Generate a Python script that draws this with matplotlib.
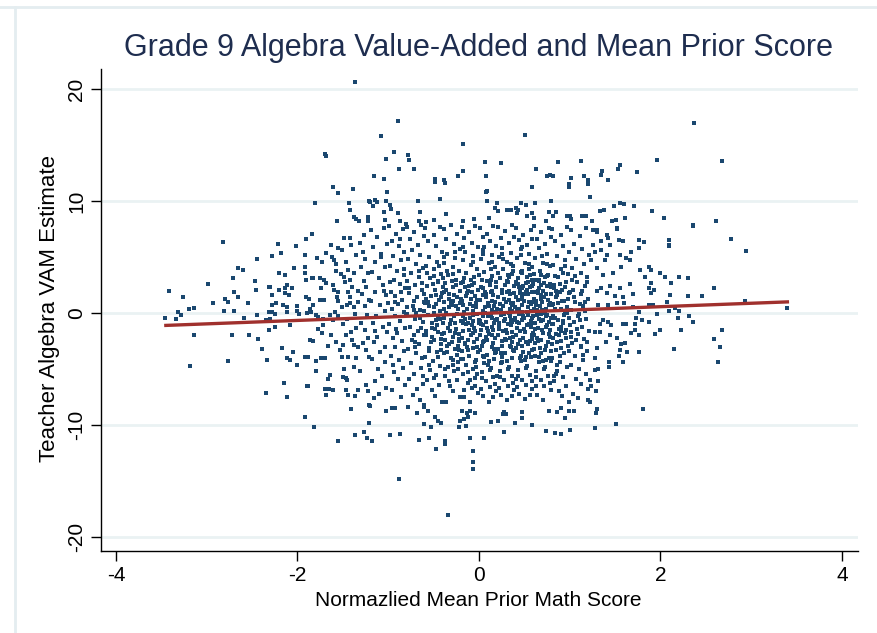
import matplotlib
matplotlib.use('Agg')
import matplotlib.pyplot as plt
from matplotlib.lines import Line2D

plt.rcParams['font.family'] = ['Liberation Sans', 'DejaVu Sans']
plt.rcParams['axes.unicode_minus'] = False

# ---- data (x = mean prior score, y = VAM estimate) ----
top_pts = [(-1.37,20.65),(-1.70,14.2),(-1.68,14.0),(-1.61,11.25),(-1.55,10.7),(-1.39,11.1),(-1.81,9.85),
    (-1.43,9.85),(-1.42,9.2),(-1.38,8.6),(-1.35,8.4),(-1.32,8.2),(-1.56,8.2),(-1.22,8.6),(-1.22,8.2),(-1.21,10.0),
    (-0.89,17.2),(-1.08,15.8),(-0.94,14.4),(-1.02,13.8),(-0.78,14.1),(-0.77,13.7),(-0.88,12.9),(-0.71,12.9),
    (-0.17,15.1),(-0.18,12.7),(-0.23,12.2),(0.07,13.5),(0.08,12.2),(0.08,10.8),(0.09,10.9),(0.09,10.0),(0.24,13.4),
    (0.51,15.9),(0.63,12.9),(0.59,11.3),(0.75,12.2),(0.78,12.3),(0.82,12.2),(0.87,13.5),(0.99,11.5),(0.99,11.3),
    (1.01,12.1),(1.12,13.6),(1.16,12.2),(1.20,11.9),(1.20,11.5),(-1.16,12.2),(-1.05,12.0),(-1.01,10.8),(-0.48,12.0),
    (-0.48,11.7),(-0.39,11.9),(-0.37,11.6),(-0.43,10.2),(-0.67,10.0),
    (2.37,17.0),(1.96,13.66),(2.68,13.57),(1.74,12.6),(1.55,13.2),(1.53,12.9),(1.36,12.7),(1.35,12.3),(1.42,11.9),
    (1.22,10.4),(1.49,9.6),(1.56,9.8),(1.60,9.7),(1.71,9.6),(1.33,9.1),(1.38,9.2),(1.91,9.1),(2.04,8.5),(1.25,8.2),
    (1.47,8.2),(1.51,8.3),(1.61,8.5),(2.36,7.9),(2.61,8.2)]

upper_pts = [(-1.20,9.94),(-1.17,9.56),(-1.14,10.14),(-1.12,9.94),(-1.02,10.03),(-0.98,9.65),(-0.97,9.26),
    (-1.05,9.05),(-1.03,8.31),(-0.89,8.96),(-0.87,8.22),(-0.80,7.95),(-0.65,9.05),(-0.66,8.25),(-0.58,8.16),
    (-0.50,8.31),(-0.36,8.81),(-0.18,8.25),(-0.05,8.39),(0.11,8.51),(0.18,9.35),(0.20,9.85),(0.21,9.11),(0.31,9.23),
    (0.34,9.23),(0.35,9.23),(0.41,9.35),(0.42,8.93),(0.43,9.23),(0.46,9.85),(0.52,9.65),(0.59,8.93),(0.61,8.51),
    (0.62,9.85),(0.53,8.63),(0.77,9.05),(0.85,9.05),(0.82,8.63),(0.74,8.25),(0.79,10.0),(1.0,8.63),(1.02,8.39),
    (1.14,8.63),(1.18,8.66),(0.97,8.63)]

left_pts = [(-2.82,6.37),(-3.42,1.96),(-3.26,1.46),(-3.32,0.12),(-3.28,-0.18),(-3.46,-0.47),(-3.34,-0.5),
    (-3.20,0.36),(-3.14,0.45),(-2.98,2.56),(-2.93,0.92),(-3.14,-1.96),(-3.18,-4.7),(-2.76,-4.3),(-2.71,3.1),
    (-2.66,3.99),(-2.60,3.85),(-2.80,1.25),(-2.77,1.0),(-2.70,1.9),(-2.66,1.46),(-2.70,0.18),(-2.81,0.18),
    (-2.72,-1.96),(-2.55,0.92),(-2.59,-0.47),(-2.53,-1.96),(-2.44,4.8),(-2.47,2.86),(-2.46,2.05),(-2.44,-0.18),
    (-2.43,-2.32),(-2.39,-3.21),(-2.33,-4.2),(-2.21,6.2),(-2.28,5.1),(-2.18,5.35),(-2.31,2.35),(-2.30,2.3),
    (-2.20,3.54),(-2.14,3.39),(-2.28,1.66),(-2.24,0.92),(-2.28,0.71),(-2.20,2.05),(-2.14,2.2),(-2.14,1.8),
    (-2.09,1.6),(-2.31,0.12),(-2.28,0.12),(-2.25,-0.1),(-2.35,-0.6),(-2.30,-0.5),(-2.25,-1.2),(-2.31,-1.5),
    (-2.12,2.55),(-2.06,2.25),(-2.16,0.71),(-2.12,0.57),(-2.11,0.08),(-2.08,-1.07),(-2.17,-3.1),(-2.05,-3.45),
    (-2.11,-4.0),(-2.08,-4.2),(-2.04,4.05),(-2.02,5.98),(-2.0,0.66),(-2.0,0.18),(-1.98,-0.1),(-2.0,-4.6),
    (-1.91,6.6),(-1.84,7.1),(-1.92,5.2),(-1.92,4.14),(-1.92,3.55),(-1.90,2.95),(-1.84,3.1),(-1.83,3.1),
    (-1.91,1.46),(-1.87,1.25),(-1.86,0.4),(-1.83,0.7),(-1.89,-0.03),(-1.85,0.12),(-1.79,-0.18),(-1.92,-3.9),
    (-1.88,-3.9),(-1.86,-2.4),(-1.83,-2.5),(-1.80,-4.3),(-1.79,-5.2),(-1.74,-4.0),(-1.70,-4.0),(-1.78,4.9),
    (-1.73,4.6),(-1.75,3.1),(-1.71,3.0),(-1.69,2.65),(-1.74,2.2),(-1.75,1.13),(-1.71,1.13),(-1.77,-0.32),
    (-1.72,-0.55),(-1.77,-1.43),(-1.73,-1.81),(-1.69,5.4),(-1.63,6.1),(-1.55,5.77),(-1.51,5.6),(-1.62,5.0),
    (-1.60,4.7),(-1.57,4.34),(-1.49,6.75),(-1.42,6.7),(-1.41,6.07),(-1.44,3.84),(-1.38,3.55),(-1.52,3.45),
    (-1.49,3.25),(-1.61,2.5),(-1.60,2.05),(-1.55,1.9),(-1.56,1.46),(-1.55,1.1),(-1.48,2.8),(-1.42,2.95),
    (-1.40,2.35),(-1.44,1.9),(-1.42,1.46),(-1.51,0.57),(-1.45,0.71),(-1.42,0.86),(-1.38,0.5),(-1.64,-0.18),
    (-1.59,0.12),(-1.61,-0.6),(-1.55,-0.3),(-1.72,-1.07),(-1.63,-1.96),(-1.57,-2.56),(-1.50,-2.86),(-1.46,-1.96),
    (-1.40,-2.41),(-1.38,-2.86),(-1.51,-3.9),(-1.44,-3.9),(-1.35,-4.05),(-1.49,-4.95),(-1.38,-4.8),(-1.31,-5.2),
    (-1.28,5.5),(-1.25,4.8),(-1.30,4.1),(-1.22,3.6),(-1.27,2.9),(-1.24,2.3),(-1.29,1.7),(-1.21,1.2),(-1.26,0.6),
    (-1.23,-0.2),(-1.30,-0.9),(-1.25,-1.5),(-1.22,-2.2),(-1.28,-2.7),(-1.24,-3.3),(-1.21,-3.9),(-1.33,1.0),
    (-1.35,-1.3),(-1.33,-3.0),(-1.27,7.0),(-1.31,6.3),(-1.47,4.6),(-1.35,5.2),(-1.58,3.8),(-1.33,2.0),(-1.50,-1.0),
    (-1.45,-0.5),(-1.36,-0.1),(-1.66,-2.9),(-1.53,-3.3),(-1.41,-1.7)]

bottom_pts = [(-2.35,-7.1),(-2.15,-6.22),(-2.12,-7.47),(-1.92,-9.29),(-1.82,-10.18),(-1.89,-6.52),(-1.88,-6.55),
    (-1.66,-5.9),(-1.64,-5.5),(-1.50,-5.7),(-1.46,-5.8),(-1.45,-6.0),(-1.70,-6.8),(-1.69,-7.3),(-1.65,-6.8),
    (-1.61,-6.9),(-1.47,-6.9),(-1.44,-7.3),(-1.36,-7.4),(-1.33,-6.9),(-1.24,-6.4),(-1.22,-7.0),(-1.21,-8.2),
    (-1.21,-9.8),(-1.41,-8.6),(-1.55,-11.4),(-1.36,-10.9),(-1.27,-10.6),(-1.23,-11.2),
    (-0.345,-18.07),(-0.88,-14.8),(-0.07,-13.9),(-0.06,-13.3),(-0.06,-12.3),(-0.10,-11.2),(0.06,-11.2),
    (-0.37,-11.4),(-0.37,-11.7),(-0.47,-12.1),(-0.55,-11.2),(-0.66,-11.3),(-0.87,-10.8),(-0.98,-10.9),(-1.18,-11.4),
    (-0.61,-9.9),(-0.53,-10.2),(-0.42,-9.8),(-0.45,-9.6),(-0.48,-9.3),(-0.22,-10.2),(-0.14,-10.1),(-0.21,-9.6),
    (-0.16,-9.5),(-0.12,-9.3),(-0.13,-8.96),(-0.04,-8.96),(-0.19,-8.75),(-0.10,-8.7),(0.13,-9.7),(0.21,-9.6),
    (0.28,-10.6),(0.40,-9.8),(0.48,-9.4),(0.48,-8.8),(0.59,-10.0),(0.74,-10.5),(0.84,-10.7),(0.91,-10.8),
    (1.0,-10.4),(0.95,-9.4),(0.77,-8.7),(0.86,-8.8),(0.91,-8.5),(0.99,-8.7),(1.05,-8.75),(1.09,-7.6),(1.20,-7.8),
    (0.28,-8.8),(0.27,-9.0),(0.30,-9.0),(-0.96,-8.5),(-0.93,-8.5),(-1.02,-8.7),(-0.78,-8.4),(-0.68,-8.96),
    (-0.60,-8.4),(-0.56,-8.7),(-0.60,-8.2),(-1.16,-7.6),(-1.20,-8.3),
    (1.81,-8.57),(1.51,-9.89),(1.28,-10.24),(1.30,-8.57),(1.29,-8.96),(1.31,-6.1),(1.23,-5.98),(1.24,-6.55),
    (1.29,-6.94),(1.22,-7.9)]

right_pts = [(2.78,6.6),(2.94,5.56),(2.36,7.8),(2.59,2.2),(2.93,1.07),(3.40,0.42),(2.68,-1.49),(2.59,-2.32),
    (2.66,-3.0),(2.63,-4.4),(2.15,-3.21),(2.23,-1.55),(2.36,-0.84),(2.32,-0.24),(2.19,-0.48),(2.46,1.55),
    (2.30,1.55),(2.31,3.15),(2.21,3.24),(2.12,2.65),(2.11,1.64),(2.05,3.24),(2.0,3.54),(2.09,6.5),(2.09,6.07),
    (2.10,5.98),(2.16,0.42),(2.21,0.21),(2.09,0.18),(2.07,1.0),(1.96,-0.12),(2.0,-1.55),(1.94,-1.9),(1.76,-3.5),
    (1.93,2.05),(1.90,2.65),(1.90,1.76),(1.87,2.2),(1.92,0.71),(1.83,3.24),(1.87,4.14),(1.90,3.85),(1.78,3.85),
    (1.77,5.83),(1.82,6.35),(1.77,6.5),(1.68,5.47),(1.66,4.73),(1.59,6.4),(1.54,6.5),(1.52,7.5),(1.52,7.6),
    (1.30,7.4),(1.30,7.2),(1.41,7.0),(1.42,6.7),(1.35,6.4),(1.26,6.07),(1.28,5.47),(1.35,5.6),(1.41,5.2),
    (1.77,-3.45),(1.63,-3.45),(1.55,-3.3),(1.59,-4.35),(1.43,-4.35),(1.31,-5.0),(1.28,-5.1),(1.28,-4.05),
    (1.43,-4.8),(1.54,-3.8),(1.61,-2.7),(1.57,-2.8),(1.52,-2.2),(1.68,-1.82),(1.72,-1.52),(1.76,-1.96),
    (1.44,-1.96),(1.40,-2.62),(1.30,-3.1),(1.33,-1.73),(1.28,-1.67),(1.73,-0.48),(1.80,-0.63),(1.88,-0.78),
    (1.72,-0.93),(1.62,-1.0),(1.59,-0.93),(1.46,-1.07),(1.42,-0.78),(1.37,-0.63),(1.33,-0.93),
    (1.30,1.96),(1.35,2.26),(1.41,1.8),(1.45,2.4),(1.50,1.5),(1.55,2.26),(1.59,1.4),(1.66,2.6),(1.70,1.7),
    (1.31,0.71),(1.42,0.71),(1.52,0.86),(1.60,0.86),(1.70,0.57),(1.77,0.07),(1.88,0.71),(1.37,3.4),(1.48,3.55),
    (1.57,4.14),(1.39,4.73),(1.30,3.99),(1.62,4.88),(1.55,5.17),(1.24,4.73),(1.44,6.07),(1.26,7.4)]

core_left_pts = [(-1.19,7.4),(-1.12,6.8),(-1.05,7.6),(-1.17,5.9),(-1.08,5.3),(-1.01,6.2),(-1.14,4.6),(-1.03,4.1),
    (-1.18,3.7),(-1.10,3.1),(-1.06,2.5),(-1.15,1.9),(-1.02,1.6),(-1.19,1.1),(-1.09,0.7),(-1.04,0.2),(-1.13,-0.3),
    (-1.17,-0.9),(-1.06,-1.2),(-1.01,-1.7),(-1.12,-2.1),(-1.16,-2.6),(-1.04,-3.0),(-1.09,-3.5),(-1.18,-4.1),
    (-1.03,-4.4),(-1.11,-5.0),(-1.07,-5.6),(-1.15,-6.1),(-1.02,-6.7),(-1.10,-7.2),(-1.05,2.0),(-1.14,-1.6),
    (-1.00,0.9),(-1.08,5.0),
    (-0.99,7.8),(-0.91,7.1),(-0.84,7.5),(-0.96,6.4),(-0.88,6.0),(-0.82,5.5),(-0.95,5.1),(-0.86,4.7),(-0.98,4.2),
    (-0.90,3.8),(-0.83,3.4),(-0.94,3.0),(-0.87,2.6),(-0.81,2.2),(-0.97,1.9),(-0.92,1.5),(-0.85,1.2),(-0.89,0.8),
    (-0.96,0.4),(-0.83,0.1),(-0.93,-0.3),(-0.87,-0.7),(-0.99,-1.0),(-0.81,-1.3),(-0.90,-1.8),(-0.95,-2.2),
    (-0.85,-2.5),(-0.92,-3.0),(-0.82,-3.4),(-0.97,-3.8),(-0.88,-4.2),(-0.84,-4.9),(-0.94,-5.3),(-0.89,-5.9),
    (-0.81,-6.4),(-0.96,-6.9),(-0.86,-7.5),(-0.93,1.0),(-0.86,1.9),(-0.80,-0.2),(-0.98,2.8),(-0.91,-1.4),
    (-0.83,3.9),(-0.87,6.6),(-0.95,-4.6),
    (-0.79,7.7),(-0.71,7.2),(-0.64,7.9),(-0.76,6.6),(-0.67,6.1),(-0.61,6.9),(-0.74,5.6),(-0.65,5.2),(-0.78,4.8),
    (-0.69,4.4),(-0.62,4.0),(-0.75,3.6),(-0.66,3.2),(-0.79,2.9),(-0.70,2.5),(-0.63,2.1),(-0.77,1.8),(-0.68,1.4),
    (-0.61,1.0),(-0.73,0.6),(-0.65,0.3),(-0.79,-0.1),(-0.70,-0.5),(-0.62,-0.8),(-0.76,-1.2),(-0.67,-1.6),
    (-0.60,-2.0),(-0.74,-2.4),(-0.66,-2.8),(-0.78,-3.2),(-0.69,-3.6),(-0.63,-4.0),(-0.75,-4.5),(-0.64,-4.9),
    (-0.71,-5.4),(-0.77,-5.9),(-0.62,-6.3),(-0.68,-6.8),(-0.73,-7.3),(-0.65,-7.8),(-0.72,1.1),(-0.61,1.7),
    (-0.69,0.0),(-0.77,2.2),(-0.64,-1.3),(-0.72,-2.0),(-0.66,3.8),(-0.70,-3.0),(-0.62,-5.6),(-0.79,0.5),
    (-0.59,7.6),(-0.50,7.0),(-0.43,7.7),(-0.56,6.4),(-0.47,6.0),(-0.41,5.5),(-0.55,5.0),(-0.46,4.6),(-0.58,4.2),
    (-0.49,3.9),(-0.42,3.5),(-0.54,3.1),(-0.45,2.8),(-0.57,2.4),(-0.48,2.1),(-0.41,1.8),(-0.53,1.5),(-0.44,1.2),
    (-0.59,0.9),(-0.50,0.5),(-0.43,0.2),(-0.56,-0.2),(-0.47,-0.6),(-0.40,-0.9),(-0.52,-1.3),(-0.45,-1.7),
    (-0.58,-2.0),(-0.49,-2.4),(-0.42,-2.8),(-0.55,-3.1),(-0.46,-3.5),(-0.59,-3.9),(-0.51,-4.3),(-0.43,-4.7),
    (-0.54,-5.1),(-0.47,-5.5),(-0.57,-6.0),(-0.44,-6.4),(-0.52,-6.9),(-0.48,-7.4),(-0.41,-7.9),(-0.56,1.0),
    (-0.46,-1.1),(-0.51,2.6),(-0.42,-3.3),(-0.58,-1.6),(-0.49,0.0),(-0.44,4.2),(-0.53,-2.6),(-0.40,2.3),
    (-0.55,-4.6),(-0.47,1.6),(-0.57,3.6),(-0.45,-0.3),(-0.50,-5.8)]

core_mid_pts = [(-0.39,7.5),(-0.31,7.9),(-0.24,7.1),(-0.36,6.6),(-0.27,6.2),(-0.21,5.7),(-0.35,5.3),(-0.26,4.9),
    (-0.38,4.5),(-0.29,4.1),(-0.22,3.8),(-0.34,3.4),(-0.25,3.0),(-0.37,2.7),(-0.28,2.3),(-0.21,2.0),(-0.33,1.7),
    (-0.24,1.4),(-0.39,1.0),(-0.30,0.7),(-0.23,0.4),(-0.36,0.0),(-0.27,-0.3),(-0.20,-0.7),(-0.32,-1.0),
    (-0.25,-1.4),(-0.38,-1.8),(-0.29,-2.1),(-0.22,-2.5),(-0.35,-2.9),(-0.26,-3.2),(-0.39,-3.6),(-0.31,-4.0),
    (-0.23,-4.4),(-0.34,-4.8),(-0.27,-5.2),(-0.37,-5.6),(-0.24,-6.0),(-0.32,-6.5),(-0.28,-7.0),(-0.21,-7.5),
    (-0.36,-7.9),(-0.33,0.5),(-0.26,-0.9),(-0.30,2.9),(-0.22,-1.9),(-0.38,-0.4),(-0.28,1.1),(-0.24,-3.7),
    (-0.35,3.8),(-0.30,-2.6),(-0.21,0.9),(-0.37,-5.0),(-0.26,5.5),(-0.33,-6.1),(-0.23,-2.9),(-0.39,1.9),
    (-0.29,-4.6),(-0.25,2.5),(-0.34,-1.3),
    (-0.19,7.7),(-0.11,7.2),(-0.04,7.8),(-0.16,6.7),(-0.08,6.3),(-0.01,5.9),(-0.15,5.5),(-0.06,5.1),(-0.18,4.7),
    (-0.09,4.3),(-0.02,3.9),(-0.14,3.6),(-0.05,3.2),(-0.17,2.8),(-0.08,2.5),(-0.01,2.1),(-0.13,1.8),(-0.04,1.5),
    (-0.19,1.1),(-0.10,0.8),(-0.03,0.5),(-0.16,0.1),(-0.07,-0.2),(0.00,-0.6),(-0.12,-0.9),(-0.05,-1.3),
    (-0.18,-1.6),(-0.09,-2.0),(-0.02,-2.3),(-0.15,-2.7),(-0.06,-3.1),(-0.19,-3.4),(-0.11,-3.8),(-0.03,-4.2),
    (-0.14,-4.6),(-0.07,-5.0),(-0.17,-5.4),(-0.04,-5.8),(-0.12,-6.2),(-0.08,-6.7),(-0.01,-7.1),(-0.16,-7.5),
    (-0.10,-7.9),(-0.13,0.4),(-0.06,-0.7),(-0.18,-0.3),(-0.02,1.2),(-0.11,-1.5),(-0.15,2.3),(-0.05,-2.6),
    (-0.09,3.0),(-0.01,-3.5),(-0.17,-4.1),(-0.07,4.6),(-0.12,-5.3),(-0.03,-4.8),(-0.14,1.5),(-0.06,0.2),
    (-0.19,-2.2),(-0.10,-6.0),(-0.04,-6.5),(-0.16,-6.9),(-0.08,-1.1),(-0.02,-0.1),(-0.13,-3.0),
    (0.01,7.6),(0.09,7.1),(0.16,7.8),(0.04,6.8),(0.12,6.4),(0.19,6.0),(0.05,5.6),(0.14,5.2),(0.02,4.8),
    (0.11,4.5),(0.18,4.1),(0.06,3.7),(0.15,3.3),(0.03,3.0),(0.12,2.6),(0.19,2.3),(0.07,1.9),(0.16,1.6),(0.01,1.2),
    (0.10,0.9),(0.17,0.6),(0.04,0.2),(0.13,-0.1),(0.20,-0.5),(0.08,-0.8),(0.15,-1.2),(0.02,-1.5),(0.11,-1.9),
    (0.18,-2.2),(0.05,-2.6),(0.14,-3.0),(0.01,-3.3),(0.09,-3.7),(0.17,-4.1),(0.06,-4.5),(0.13,-4.9),(0.03,-5.3),
    (0.16,-5.7),(0.08,-6.1),(0.12,-6.6),(0.19,-7.0),(0.04,-7.4),(0.11,-7.9),(0.07,0.5),(0.14,-0.4),(0.02,-1.0),
    (0.18,1.0),(0.10,-1.6),(0.05,2.2),(0.16,-2.7),(0.09,2.9),(0.01,-2.0),(0.13,3.9),(0.19,-3.5),(0.06,-3.9),
    (0.15,4.6),(0.03,-5.8),(0.12,-5.1),(0.18,-6.3),(0.08,1.4),(0.17,-0.9),(0.04,-0.3),(0.14,0.3),(0.11,-4.3),
    (0.06,5.9),(0.19,2.8),(0.02,-6.8),(0.16,-7.5),(0.09,-2.4),(0.13,1.9)]

core_right_pts = [(0.21,7.7),(0.29,7.3),(0.37,7.9),(0.24,6.7),(0.33,6.3),(0.39,6.8),(0.26,5.8),(0.35,5.4),
    (0.22,5.0),(0.31,4.6),(0.38,4.2),(0.27,3.9),(0.36,3.5),(0.23,3.1),(0.32,2.8),(0.39,2.4),(0.25,2.1),(0.34,1.7),
    (0.21,1.4),(0.30,1.0),(0.37,0.7),(0.24,0.3),(0.33,0.0),(0.40,-0.4),(0.28,-0.7),(0.35,-1.1),(0.22,-1.4),
    (0.31,-1.8),(0.38,-2.1),(0.25,-2.5),(0.34,-2.9),(0.21,-3.2),(0.29,-3.6),(0.37,-4.0),(0.26,-4.4),(0.33,-4.8),
    (0.23,-5.2),(0.36,-5.6),(0.28,-6.0),(0.32,-6.5),(0.39,-6.9),(0.24,-7.3),(0.31,-7.8),(0.27,0.6),(0.34,-0.3),
    (0.22,-0.9),(0.38,0.9),(0.30,-1.5),(0.25,1.8),(0.36,-2.6),(0.29,2.5),(0.21,-2.0),(0.33,3.2),(0.39,-3.4),
    (0.26,-3.9),(0.35,4.4),(0.23,-5.7),(0.32,-5.0),(0.38,-6.2),(0.28,1.3),(0.37,-0.8),(0.24,-0.2),(0.34,0.4),
    (0.31,-4.3),(0.26,5.3),(0.39,1.8),(0.22,-6.7),(0.36,-7.4),(0.29,-2.3),(0.33,2.0),
    (0.41,7.6),(0.49,7.0),(0.57,7.4),(0.44,6.5),(0.53,6.1),(0.59,6.6),(0.46,5.7),(0.55,5.3),(0.42,4.9),(0.51,4.5),
    (0.58,4.1),(0.47,3.8),(0.56,3.4),(0.43,3.1),(0.52,2.7),(0.59,2.4),(0.45,2.0),(0.54,1.7),(0.41,1.4),(0.50,1.1),
    (0.57,0.8),(0.44,0.4),(0.53,0.1),(0.60,-0.3),(0.48,-0.6),(0.55,-1.0),(0.42,-1.3),(0.51,-1.7),(0.58,-2.0),
    (0.45,-2.4),(0.54,-2.8),(0.41,-3.1),(0.49,-3.5),(0.57,-3.9),(0.46,-4.3),(0.53,-4.7),(0.43,-5.1),(0.56,-5.5),
    (0.48,-6.0),(0.52,-6.4),(0.59,-6.8),(0.44,-7.2),(0.51,-7.7),(0.47,0.7),(0.54,-0.2),(0.42,-0.8),(0.58,1.0),
    (0.50,-1.4),(0.45,1.8),(0.56,-2.5),(0.49,2.4),(0.41,-2.0),(0.53,3.2),(0.59,-3.3),(0.46,-3.8),(0.55,4.4),
    (0.43,-5.6),(0.52,-4.9),(0.58,-6.1),(0.48,1.3),(0.57,-0.7),(0.44,-0.1),(0.54,0.5),(0.51,-4.2),(0.46,5.2),
    (0.59,1.9),(0.42,-6.6),(0.56,-7.3),(0.49,-2.2),(0.53,2.1),(0.47,3.6),(0.58,3.0),(0.43,2.6),
    (0.61,7.8),(0.69,7.2),(0.77,7.6),(0.64,6.6),(0.73,6.2),(0.79,6.8),(0.66,5.8),(0.75,5.3),(0.62,4.9),(0.71,4.5),
    (0.78,4.2),(0.67,3.8),(0.76,3.4),(0.63,3.0),(0.72,2.7),(0.79,2.3),(0.65,2.0),(0.74,1.7),(0.61,1.3),(0.70,1.0),
    (0.77,0.7),(0.64,0.3),(0.73,0.0),(0.80,-0.4),(0.68,-0.7),(0.75,-1.1),(0.62,-1.4),(0.71,-1.8),(0.78,-2.1),
    (0.65,-2.5),(0.74,-2.9),(0.61,-3.2),(0.69,-3.6),(0.77,-4.0),(0.66,-4.4),(0.73,-4.8),(0.63,-5.2),(0.76,-5.6),
    (0.68,-6.0),(0.72,-6.5),(0.79,-6.9),(0.64,-7.3),(0.71,-7.8),(0.67,0.6),(0.74,-0.3),(0.62,-0.9),(0.78,0.9),
    (0.70,-1.5),(0.65,1.8),(0.76,-2.6),(0.69,2.5),(0.61,-2.0),(0.73,3.2),(0.79,-3.4),(0.66,-3.9),(0.75,4.4),
    (0.63,-5.7),(0.72,-5.0),(0.78,-6.2),(0.68,1.3),(0.77,-0.8),(0.64,-0.2),(0.74,0.4),(0.71,-4.3),(0.66,2.2),
    (0.81,7.5),(0.90,7.0),(0.97,7.7),(0.84,6.4),(0.93,6.0),(0.99,5.5),(0.86,5.1),(0.95,4.7),(0.82,4.3),(0.91,3.9),
    (0.98,3.5),(0.87,3.2),(0.96,2.8),(0.83,2.5),(0.92,2.1),(0.99,1.8),(0.85,1.4),(0.94,1.1),(0.81,0.7),(0.90,0.4),
    (0.97,0.0),(0.84,-0.4),(0.93,-0.7),(1.00,-1.1),(0.88,-1.4),(0.95,-1.8),(0.82,-2.2),(0.91,-2.5),(0.98,-2.9),
    (0.85,-3.3),(0.94,-3.6),(0.81,-4.0),(0.89,-4.4),(0.97,-4.8),(0.86,-5.2),(0.93,-5.7),(0.83,-6.1),(0.96,-6.5),
    (0.88,-7.0),(0.92,-7.4),(0.99,-7.9),(0.87,0.9),(0.94,-0.2),(0.82,-1.0),(0.98,1.3),(0.90,-1.6),(0.85,2.0),
    (0.96,-2.2),(0.89,2.6),(0.81,-2.8),(0.93,3.6),(0.99,-3.4),(0.86,-4.6),(0.95,4.2),(0.83,-5.6),
    (1.02,7.4),(1.11,6.9),(1.18,7.6),(1.05,6.2),(1.14,5.7),(1.21,5.2),(1.07,4.8),(1.16,4.4),(1.03,4.0),(1.12,3.6),
    (1.19,3.2),(1.08,2.8),(1.17,2.4),(1.04,2.1),(1.13,1.7),(1.20,1.3),(1.06,1.0),(1.15,0.6),(1.01,0.3),(1.10,-0.1),
    (1.18,-0.5),(1.05,-0.8),(1.14,-1.2),(1.21,-1.6),(1.09,-1.9),(1.16,-2.3),(1.03,-2.7),(1.12,-3.0),(1.19,-3.4),
    (1.06,-3.8),(1.15,-4.2),(1.02,-4.6),(1.10,-5.0),(1.18,-5.4),(1.07,-5.9),(1.13,-6.3),(1.20,-6.8),(1.04,-7.2),
    (1.11,-0.6),(1.17,1.0),(1.08,-1.4),(1.14,2.0),(1.01,-2.1),(1.19,-2.6),(1.06,3.3)]

dense_pts = [(-0.72,0.3),(-0.65,-0.4),(-0.58,1.3),(-0.52,-0.9),(-0.47,0.8),(-0.41,-1.9),(-0.36,2.1),(-0.31,-0.6),
    (-0.27,1.6),(-0.22,-2.3),(-0.18,0.7),(-0.14,-1.0),(-0.11,2.4),(-0.07,-1.8),(-0.03,0.9),(0.01,-0.7),(0.05,1.6),
    (0.09,-1.3),(0.12,2.5),(0.15,-2.0),(0.19,0.1),(0.22,-1.1),(0.26,2.0),(0.29,-0.5),(0.33,1.2),(0.36,-1.7),
    (0.40,0.5),(0.43,-2.8),(0.47,1.5),(0.50,-0.4),(0.54,2.8),(0.57,-1.2),(0.61,0.4),(0.64,-2.2),(0.68,1.6),
    (0.71,-0.6),(0.75,2.4),(0.78,-1.5),(0.82,0.8),(0.86,-2.6),(0.89,1.9),(0.93,-0.9),(0.97,0.5),(1.01,-1.7),
    (1.05,1.4),(1.09,-0.3),(1.13,-2.9),(1.17,0.2),
    (-0.70,-2.6),(-0.63,2.7),(-0.55,-3.4),(-0.49,3.3),(-0.43,-0.5),(-0.38,0.4),(-0.33,-2.8),(-0.29,3.5),
    (-0.24,-0.1),(-0.20,-4.1),(-0.16,3.1),(-0.12,-3.3),(-0.08,1.9),(-0.04,-4.4),(0.00,3.4),(0.03,-2.9),(0.07,0.0),
    (0.10,-4.6),(0.14,1.1),(0.17,-3.2),(0.21,3.6),(0.24,-4.5),(0.28,-0.1),(0.31,2.9),(0.35,-3.0),(0.38,3.8),
    (0.42,0.2),(0.45,-4.0),(0.48,2.2),(0.52,-2.6),(0.55,3.9),(0.59,-0.9),(0.62,-3.8),(0.66,3.0),(0.69,-0.1),
    (0.73,-3.3),(0.76,1.2),(0.80,-4.3),(0.84,3.3),(0.87,-0.6),(0.91,-3.1),(0.95,2.3),(0.99,-0.4),(1.03,3.0),
    (1.07,-2.4),(1.11,0.8),(1.15,-3.7),(1.19,2.8),
    (-0.60,0.2),(-0.45,2.9),(-0.35,-3.5),(-0.25,0.6),(-0.15,-0.5),(-0.05,2.7),(0.05,-1.1),(0.15,2.0),(0.25,-2.9),
    (0.35,0.9),(0.45,-1.6),(0.55,1.0),(0.65,-1.3),(0.75,3.3),(0.85,-1.9),(0.95,0.1),(0.44,2.3),(0.52,1.9),
    (0.60,2.6),(0.68,3.4),(0.63,1.1),(0.70,0.3),(0.57,0.2),(0.48,0.1),(0.40,-0.6),(0.32,-1.0),(0.20,0.4),
    (0.10,-0.3),(0.00,-0.9),(-0.10,-0.4),(-0.20,1.3),(0.58,-0.4),(0.66,-0.5),(0.74,-1.2),(0.82,-0.3),(0.90,-1.2),
    (1.00,1.9),(0.79,1.7),(0.71,2.0),(0.62,-2.7),(0.55,-3.6),(0.38,-3.3),(0.30,-2.4),(0.18,-3.6),(0.08,-2.1),
    (-0.02,-3.0),(-0.12,-2.4),(-0.22,-3.3),(-0.32,-1.6),(-0.42,-2.3)]

# extra teachers in the darkest part of the cloud
dense2_pts = [(0.23,0.8),(0.27,-1.6),(0.31,1.9),(0.34,-2.2),(0.37,0.2),(0.41,2.8),(0.44,-0.9),(0.47,-2.9),
    (0.50,1.7),(0.53,-1.1),(0.56,2.3),(0.60,-1.8),(0.63,0.7),(0.66,2.9),(0.69,-2.4),(0.72,1.4),(0.75,-0.2),
    (0.78,2.6),(0.81,-1.0),(0.84,0.4),(0.88,-2.0),(0.92,1.1),(0.96,-1.5),(0.24,-3.6),(0.32,3.4),(0.46,3.7),
    (0.52,-3.9),(0.61,3.5),(0.67,-3.1),(0.74,-4.2),(0.83,2.2),(0.89,-3.8),(0.35,-0.6),(0.43,1.2),(0.58,-2.3),
    (0.65,0.0),(0.77,-1.9),(0.86,1.6),(0.49,-0.3),(0.62,1.9),
    (-0.55,0.6),(-0.48,-1.4),(-0.42,1.4),(-0.37,-2.4),(-0.31,0.9),(-0.26,-1.8),(-0.20,2.7),(-0.15,-2.8),
    (-0.09,1.3),(-0.04,-1.6),(0.02,2.3),(0.06,-2.5),(0.11,0.6),(0.16,-1.5),(-0.52,-2.1),(-0.40,3.1),(-0.28,-4.2),
    (-0.18,-0.9),(-0.06,0.6),(0.04,-3.8),(0.13,3.0),(0.18,-0.6),(-0.33,1.3),(-0.12,2.0),(0.08,1.7),(-0.45,-3.9),
    (-0.23,-5.0),(-0.02,-5.4),(0.20,-5.6),(0.41,-5.9),(0.63,-6.5),(0.85,-5.4),(0.04,5.3),(0.27,4.8),(0.48,5.9),
    (0.70,5.1),(-0.17,5.9),(-0.38,5.0)]

# linear fit line, end points
fit_x = [-3.45, 3.40]
fit_y = [-1.1, 1.0]

x_ticks = [-4, -2, 0, 2, 4]
y_ticks = [-20, -10, 0, 10, 20]

all_pts = (top_pts + upper_pts + left_pts + bottom_pts + right_pts
           + core_left_pts + core_mid_pts + core_right_pts + dense_pts + dense2_pts)
xs = [p[0] for p in all_pts]
ys = [p[1] for p in all_pts]

fig = plt.figure(figsize=(8.78, 6.33), dpi=100)
ax = fig.add_axes([0.115, 0.1295, 0.862, 0.7615])

ax.set_xlim(-4.165, 4.176)
ax.set_ylim(-21.25, 21.8)
ax.set_xticks(x_ticks)
ax.set_yticks(y_ticks)
ax.set_xticklabels([str(t) for t in x_ticks])
ax.set_yticklabels([str(t) for t in y_ticks], rotation=90, va='center')
ax.yaxis.grid(True, color='#eaf2f3', lw=2)
ax.set_axisbelow(True)

ax.scatter(xs, ys, s=7, marker='s', color='#1a476f', linewidths=0, zorder=2)
ax.plot(fit_x, fit_y, color='#a0302d', lw=2.4, zorder=3)

for side in ['top', 'right']:
    ax.spines[side].set_visible(False)
ax.spines['left'].set_linewidth(1)
ax.spines['bottom'].set_linewidth(1)
ax.tick_params(direction='out', length=7, width=1, labelsize=15, colors='black')

fig.text(0.545, 1 - 48/633, 'Grade 9 Algebra Value-Added and Mean Prior Score',
         ha='center', va='center', fontsize=22, color='#1e2d4f')
fig.text(478/878, 1 - 601/633, 'Normazlied Mean Prior Math Score',
         ha='center', va='center', fontsize=15)
fig.text(50/878, 1 - 308/633, 'Teacher Algebra VAM Estimate',
         ha='center', va='center', fontsize=16, rotation=90)

# faint frame of the screenshot
fig.add_artist(Line2D([0, 1], [1 - 7/633, 1 - 7/633], color='#e4edf0', lw=2))
fig.add_artist(Line2D([15/878, 15/878], [0, 1 - 7/633], color='#e4edf0', lw=2))

fig.savefig('out.png', dpi=100)
